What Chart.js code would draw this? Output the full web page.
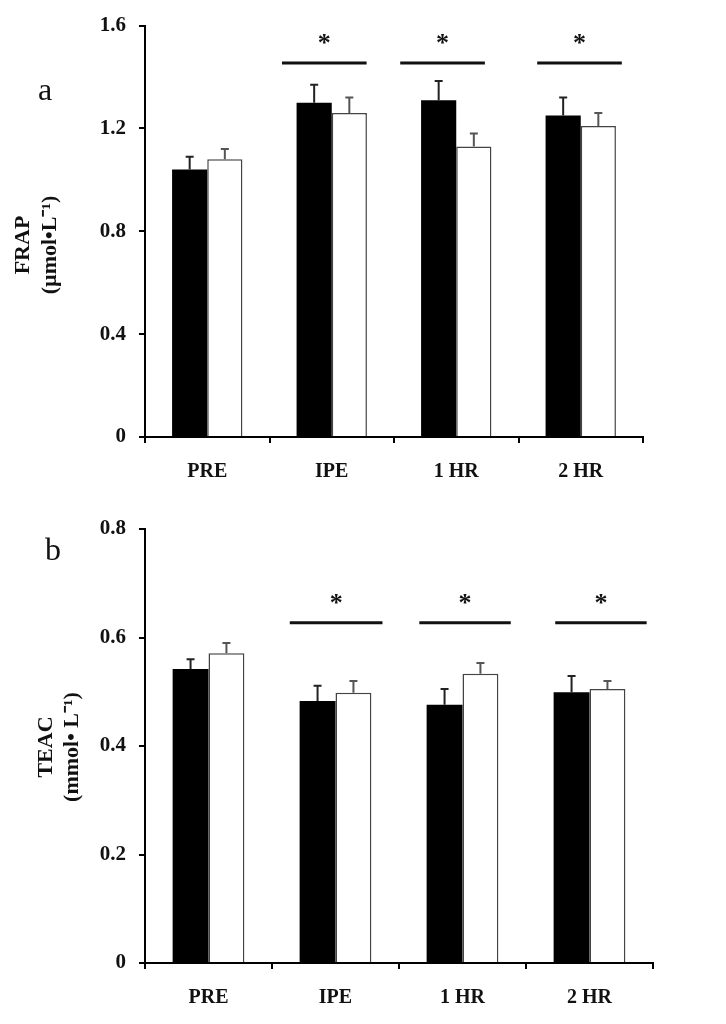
<!DOCTYPE html>
<html>
<head>
<meta charset="utf-8">
<script src="https://cdn.jsdelivr.net/npm/chart.js@4.4.1/dist/chart.umd.min.js"></script>
<style>
  html, body { margin: 0; padding: 0; background: #fff; }
  .panel { position: absolute; left: 0; width: 726px; }
  #wrapA { top: 0; height: 500px; }
  #wrapB { top: 500px; height: 524px; }
</style>
</head>
<body>
<div class="panel" id="wrapA"><canvas id="frapChart" width="726" height="500"></canvas></div>
<div class="panel" id="wrapB"><canvas id="teacChart" width="726" height="524"></canvas></div>
<script>
const categories = ["PRE", "IPE", "1 HR", "2 HR"];

// panel a: FRAP
const frapBlack = [1.04, 1.30, 1.31, 1.25];
const frapBlackErr = [0.05, 0.07, 0.075, 0.07];
const frapWhite = [1.08, 1.26, 1.13, 1.21];
const frapWhiteErr = [0.04, 0.06, 0.05, 0.05];
const frapTicks = { max: 1.6, step: 0.4 };
const frapSig = [null, 1.455, 1.455, 1.455];
const frapStar = 1.54;

// panel b: TEAC
const teacBlack = [0.542, 0.483, 0.476, 0.499];
const teacBlackErr = [0.018, 0.028, 0.029, 0.030];
const teacWhite = [0.571, 0.498, 0.533, 0.505];
const teacWhiteErr = [0.019, 0.022, 0.020, 0.015];
const teacTicks = { max: 0.8, step: 0.2 };
const teacSig = [null, 0.627, 0.627, 0.627];
const teacStar = 0.667;

const SERIF = "'Liberation Serif', 'Times New Roman', serif";

const decorPlugin = {
  id: "decor",
  afterDatasetsDraw(chart, args, opts) {
    const ctx = chart.ctx;
    const xs = chart.scales.x;
    const ys = chart.scales.y;
    const catW = xs.width / categories.length;

    // upper error whiskers
    chart.data.datasets.forEach((ds, di) => {
      const meta = chart.getDatasetMeta(di);
      meta.data.forEach((bar, i) => {
        const top = ys.getPixelForValue(ds.data[i] + ds.errors[i]);
        ctx.save();
        ctx.strokeStyle = ds.errorColor;
        ctx.lineWidth = 2;
        ctx.beginPath();
        ctx.moveTo(bar.x, bar.y);
        ctx.lineTo(bar.x, top);
        ctx.moveTo(bar.x - 4, top);
        ctx.lineTo(bar.x + 4, top);
        ctx.stroke();
        ctx.restore();
      });
    });

    // significance lines and stars
    opts.sig.forEach((lvl, i) => {
      if (lvl == null) return;
      const cx = xs.getPixelForValue(i);
      const x0 = cx + opts.sigFrom[i] * catW;
      const x1 = cx + opts.sigTo[i] * catW;
      const yy = ys.getPixelForValue(lvl);
      ctx.save();
      ctx.strokeStyle = "#111";
      ctx.lineWidth = 3;
      ctx.beginPath();
      ctx.moveTo(x0, yy);
      ctx.lineTo(x1, yy);
      ctx.stroke();
      ctx.fillStyle = "#111";
      ctx.font = "bold 26px " + SERIF;
      ctx.textAlign = "center";
      ctx.textBaseline = "middle";
      ctx.fillText("*", (x0 + x1) / 2, ys.getPixelForValue(opts.star) + 3);
      ctx.restore();
    });
  },
  afterDraw(chart, args, opts) {
    const ctx = chart.ctx;
    ctx.save();
    ctx.fillStyle = "#111";
    ctx.font = "32px " + SERIF;
    ctx.textAlign = "center";
    ctx.textBaseline = "middle";
    ctx.fillText(opts.letter, opts.letterX, opts.letterY);

    ctx.font = "bold 22px " + SERIF;
    opts.title.forEach((line, k) => {
      ctx.save();
      ctx.translate(opts.titleX[k], opts.titleY);
      ctx.rotate(-Math.PI / 2);
      ctx.fillText(line, 0, 0);
      ctx.restore();
    });
    ctx.restore();
  },
};

function buildConfig(black, blackErr, white, whiteErr, ticks, pad, axisH, decor) {
  return {
    type: "bar",
    data: {
      labels: categories,
      datasets: [
        {
          data: black,
          errors: blackErr,
          errorColor: "#222",
          backgroundColor: "#000",
          borderWidth: 0,
          categoryPercentage: 0.565,
          barPercentage: 1.0,
        },
        {
          data: white,
          errors: whiteErr,
          errorColor: "#555",
          backgroundColor: "#fff",
          borderColor: "#444",
          borderWidth: 1.5,
          categoryPercentage: 0.565,
          barPercentage: 1.0,
        },
      ],
    },
    plugins: [decorPlugin],
    options: {
      responsive: false,
      animation: false,
      layout: { padding: pad },
      scales: {
        x: {
          afterFit: (s) => { s.height = axisH; },
          border: { color: "#000", width: 2 },
          grid: { drawOnChartArea: false, color: "#000", lineWidth: 2, tickLength: 6 },
          ticks: {
            color: "#111",
            padding: 17,
            font: { family: SERIF, size: 20, weight: "bold" },
          },
        },
        y: {
          min: 0,
          max: ticks.max,
          afterFit: (s) => { s.width = 145; },
          border: { color: "#000", width: 2 },
          grid: { drawOnChartArea: false, color: "#000", lineWidth: 2, tickLength: 6 },
          ticks: {
            stepSize: ticks.step,
            color: "#111",
            padding: 13,
            font: { family: SERIF, size: 21, weight: "bold" },
          },
        },
      },
      plugins: {
        legend: { display: false },
        tooltip: { enabled: false },
        decor,
      },
    },
  };
}

new Chart(
  document.getElementById("frapChart"),
  buildConfig(frapBlack, frapBlackErr, frapWhite, frapWhiteErr, frapTicks,
    { top: 21, right: 83, left: 0, bottom: 0 }, 63,
    {
      sig: frapSig,
      star: frapStar,
      sigFrom: [0, -0.40, -0.45, -0.35],
      sigTo: [0, 0.28, 0.23, 0.33],
      letter: "a", letterX: 45, letterY: 92,
      title: ["FRAP", "(\u00b5mol\u2022L\u207b\u00b9)"],
      titleX: [23, 50], titleY: 245,
    })
);

new Chart(
  document.getElementById("teacChart"),
  buildConfig(teacBlack, teacBlackErr, teacWhite, teacWhiteErr, teacTicks,
    { top: 29, right: 73, left: 0, bottom: 0 }, 61,
    {
      sig: teacSig,
      star: teacStar,
      sigFrom: [0, -0.36, -0.34, -0.27],
      sigTo: [0, 0.37, 0.38, 0.45],
      letter: "b", letterX: 53, letterY: 52,
      title: ["TEAC", "(mmol\u2022 L\u207b\u00b9)"],
      titleX: [46, 72], titleY: 247,
    })
);
</script>
</body>
</html>
